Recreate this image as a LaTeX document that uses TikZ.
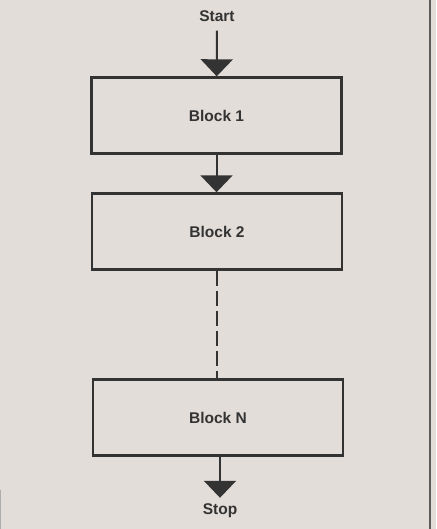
\documentclass[tikz,border=0pt]{standalone}
\usepackage{fontspec}
\setmainfont{Liberation Sans}
\usetikzlibrary{arrows.meta}
\definecolor{paper}{HTML}{E3DDD9}
\definecolor{ink}{HTML}{333333}
\begin{document}
\begin{tikzpicture}[x=1pt,y=-1pt,
  lbl/.style={font=\fontsize{15.5}{17}\selectfont\bfseries, text=ink, inner sep=2pt},
  blockbox/.style={draw=ink, line width=2.4pt, minimum width=250pt, minimum height=76pt,
    font=\fontsize{15.5}{17}\selectfont\bfseries, text=ink},
  flow/.style={draw=ink, line width=2pt, -{Triangle[width=32pt,length=17pt]}},
  gap/.style={draw=ink, line width=2pt, dash pattern=on 15pt off 5pt}]
\useasboundingbox[fill=paper] (0,0) rectangle (436,529);
\node[lbl] (start) at (217,16) {Start};
\node[blockbox] (b1) at (216.5,115.5) {Block 1};
\node[blockbox] (b2) at (217,231.5) {Block 2};
\node[blockbox] (bn) at (218,417.5) {Block N};
\node[lbl] (stop) at (220,511) {Stop};
\draw[flow, shorten <=7pt] (start) -- (b1);
\draw[flow] (b1) -- (b1 |- b2.north);
\draw[gap] (b2.south) -- (b2.south |- bn.north);
\draw[flow, shorten >=4pt] (bn.south -| stop) -- (stop);
\draw[ink!80, line width=2pt] (429.5,0) coordinate (rt) -- (429.5,529) coordinate (rb);
\draw[ink!40, line width=1.2pt] (0.6,490) coordinate (lt) -- (0.6,529) coordinate (lb);
\end{tikzpicture}
\end{document}
